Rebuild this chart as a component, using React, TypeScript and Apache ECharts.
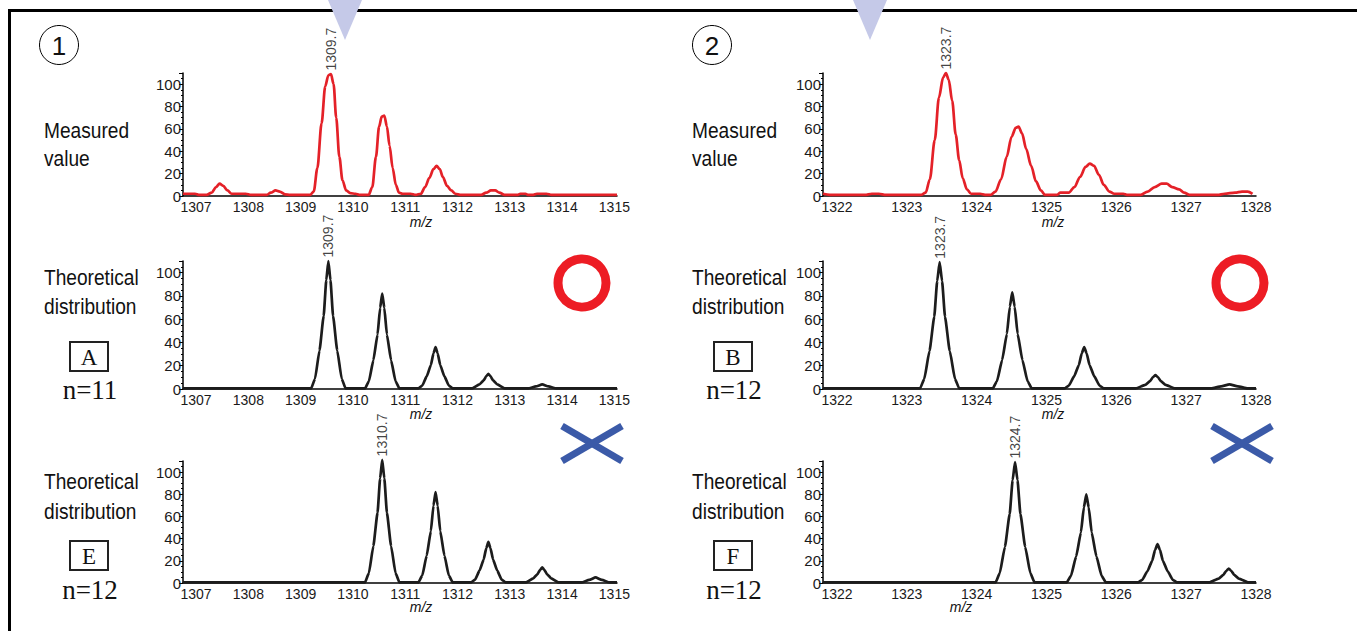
import React, { useEffect, useRef } from "react";
import * as echarts from "echarts";

const SANS = "'Liberation Sans', Arial, sans-serif";
const SERIF = "'Liberation Serif', 'Times New Roman', serif";

const leftTicks = [1307, 1308, 1309, 1310, 1311, 1312, 1313, 1314, 1315];
const rightTicks = [1322, 1323, 1324, 1325, 1326, 1327, 1328];

const measured1: number[][] = [
  [1306.75, 2], [1306.98, 2], [1307.05, 1], [1307.2, 1], [1307.3, 3], [1307.38, 8], [1307.45, 11], [1307.52, 9], [1307.6, 5], [1307.68, 2], [1307.95, 2], [1308.05, 1], [1308.35, 1], [1308.43, 3], [1308.52, 5], [1308.6, 4], [1308.7, 1.5], [1308.8, 1],
  [1309.18, 1], [1309.25, 4], [1309.32, 25], [1309.4, 65], [1309.47, 98], [1309.53, 108], [1309.58, 109], [1309.63, 100], [1309.68, 70], [1309.74, 35], [1309.8, 14], [1309.87, 5], [1309.95, 2.5], [1310.05, 2], [1310.12, 1], [1310.3, 1],
  [1310.37, 8], [1310.44, 35], [1310.5, 62], [1310.55, 71], [1310.6, 72], [1310.65, 62], [1310.7, 45], [1310.76, 25], [1310.82, 10], [1310.88, 3], [1310.95, 2], [1311.1, 2], [1311.2, 1],
  [1311.3, 2], [1311.38, 8], [1311.46, 16], [1311.54, 24], [1311.6, 27], [1311.66, 24], [1311.72, 17], [1311.8, 9], [1311.88, 5], [1311.96, 2], [1312.05, 1], [1312.45, 1],
  [1312.55, 3], [1312.64, 5], [1312.72, 5], [1312.8, 3], [1312.9, 1], [1313.15, 1], [1313.2, 2], [1313.3, 2], [1313.35, 1], [1313.45, 1], [1313.52, 2], [1313.7, 2], [1313.8, 1], [1315.05, 1],
];

const theoA: number[][] = [
  [1306.75, 0.5],
  [1309.2, 0.5], [1309.275, 8.8], [1309.36, 33], [1309.44, 62.7], [1309.49, 93.5], [1309.53, 110], [1309.57, 93.5], [1309.62, 62.7], [1309.7, 33], [1309.785, 8.8], [1309.86, 0.5],
  [1310.23, 0.5], [1310.305, 6.6], [1310.39, 24.6], [1310.47, 46.7], [1310.52, 69.7], [1310.56, 82], [1310.6, 69.7], [1310.65, 46.7], [1310.73, 24.6], [1310.815, 6.6], [1310.89, 0.5],
  [1311.25, 0.5], [1311.325, 2.9], [1311.41, 10.8], [1311.49, 20.5], [1311.54, 30.6], [1311.58, 36], [1311.62, 30.6], [1311.67, 20.5], [1311.75, 10.8], [1311.835, 2.9], [1311.91, 0.5],
  [1312.28, 0.5], [1312.42, 3.9], [1312.5, 7.4], [1312.55, 11], [1312.59, 13], [1312.63, 11], [1312.68, 7.4], [1312.76, 3.9], [1312.9, 0.5],
  [1313.35, 0.5], [1313.5, 2.2], [1313.62, 4], [1313.74, 2.2], [1313.89, 0.5],
  [1315.05, 0.5],
];

const theoE: number[][] = [
  [1306.75, 0.5],
  [1310.23, 0.5], [1310.305, 8.9], [1310.39, 33.3], [1310.47, 63.3], [1310.52, 94.4], [1310.56, 111], [1310.6, 94.4], [1310.65, 63.3], [1310.73, 33.3], [1310.815, 8.9], [1310.89, 0.5],
  [1311.25, 0.5], [1311.325, 6.6], [1311.41, 24.6], [1311.49, 46.7], [1311.54, 69.7], [1311.58, 82], [1311.62, 69.7], [1311.67, 46.7], [1311.75, 24.6], [1311.835, 6.6], [1311.91, 0.5],
  [1312.26, 0.5], [1312.335, 3], [1312.42, 11.1], [1312.5, 21.1], [1312.55, 31.5], [1312.59, 37], [1312.63, 31.5], [1312.68, 21.1], [1312.76, 11.1], [1312.845, 3], [1312.92, 0.5],
  [1313.31, 0.5], [1313.45, 4.2], [1313.53, 8], [1313.58, 11.9], [1313.62, 14], [1313.66, 11.9], [1313.71, 8], [1313.79, 4.2], [1313.93, 0.5],
  [1314.37, 0.5], [1314.52, 2.8], [1314.64, 5], [1314.76, 2.8], [1314.91, 0.5],
  [1315.05, 0.5],
];

const measured2: number[][] = [
  [1321.8, 2], [1321.9, 1], [1322.0, 1], [1322.4, 1], [1322.5, 2], [1322.6, 2], [1322.7, 1], [1323.2, 1],
  [1323.27, 3], [1323.33, 15], [1323.4, 50], [1323.46, 88], [1323.52, 106], [1323.56, 110], [1323.6, 104], [1323.65, 85], [1323.7, 55], [1323.75, 32], [1323.8, 16], [1323.86, 6], [1323.92, 2], [1324.05, 2], [1324.12, 1], [1324.2, 1],
  [1324.27, 4], [1324.35, 15], [1324.43, 35], [1324.5, 53], [1324.56, 61], [1324.6, 62], [1324.65, 56], [1324.71, 42], [1324.78, 27], [1324.85, 13], [1324.92, 5], [1324.98, 1], [1325.15, 1], [1325.2, 3], [1325.32, 3],
  [1325.4, 8], [1325.48, 17], [1325.56, 26], [1325.62, 29], [1325.68, 27], [1325.75, 19], [1325.82, 10], [1325.9, 4], [1325.97, 2], [1326.1, 2], [1326.15, 1], [1326.35, 1],
  [1326.45, 4], [1326.55, 8], [1326.65, 11], [1326.72, 11], [1326.8, 8], [1326.9, 6], [1326.97, 3], [1327.05, 1], [1327.45, 1],
  [1327.55, 2], [1327.7, 3], [1327.8, 4], [1327.88, 4], [1327.95, 2],
];

const theoB: number[][] = [
  [1321.8, 0.5],
  [1323.19, 0.5], [1323.25, 8.7], [1323.325, 32.7], [1323.393, 62.1], [1323.435, 92.7], [1323.47, 109], [1323.505, 92.7], [1323.547, 62.1], [1323.615, 32.7], [1323.69, 8.7], [1323.75, 0.5],
  [1324.23, 0.5], [1324.29, 6.6], [1324.365, 24.9], [1324.433, 47.3], [1324.475, 70.6], [1324.51, 83], [1324.545, 70.6], [1324.587, 47.3], [1324.655, 24.9], [1324.73, 6.6], [1324.79, 0.5],
  [1325.26, 0.5], [1325.32, 2.9], [1325.395, 10.8], [1325.463, 20.5], [1325.505, 30.6], [1325.54, 36], [1325.575, 30.6], [1325.617, 20.5], [1325.685, 10.8], [1325.76, 2.9], [1325.82, 0.5],
  [1326.28, 0.5], [1326.415, 3.6], [1326.483, 6.8], [1326.525, 10.2], [1326.56, 12], [1326.595, 10.2], [1326.637, 6.8], [1326.705, 3.6], [1326.84, 0.5],
  [1327.36, 0.5], [1327.5, 2.2], [1327.62, 4], [1327.74, 2.2], [1327.88, 0.5],
  [1328, 0.5],
];

const theoF: number[][] = [
  [1321.8, 0.5],
  [1324.27, 0.5], [1324.33, 8.7], [1324.405, 32.7], [1324.473, 62.1], [1324.515, 92.7], [1324.55, 109], [1324.585, 92.7], [1324.627, 62.1], [1324.695, 32.7], [1324.77, 8.7], [1324.83, 0.5],
  [1325.29, 0.5], [1325.35, 6.4], [1325.425, 24], [1325.493, 45.6], [1325.535, 68], [1325.57, 80], [1325.605, 68], [1325.647, 45.6], [1325.715, 24], [1325.79, 6.4], [1325.85, 0.5],
  [1326.31, 0.5], [1326.37, 2.8], [1326.445, 10.5], [1326.513, 20], [1326.555, 29.8], [1326.59, 35], [1326.625, 29.8], [1326.667, 20], [1326.735, 10.5], [1326.81, 2.8], [1326.87, 0.5],
  [1327.33, 0.5], [1327.465, 3.9], [1327.533, 7.4], [1327.575, 11], [1327.61, 13], [1327.645, 11], [1327.687, 7.4], [1327.755, 3.9], [1327.89, 0.5],
  [1328, 0.5],
];

// [x, y, label] of the annotated peak in each panel
const peakTL = [1309.58, 109, "1309.7"];
const peakML = [1309.53, 110, "1309.7"];
const peakBL = [1310.56, 111, "1310.7"];
const peakTR = [1323.56, 110, "1323.7"];
const peakMR = [1323.47, 109, "1323.7"];
const peakBR = [1324.55, 109, "1324.7"];

const RED = "#e42128";
const BLACK = "#1c1c1c";

export default function App() {
  const ref = useRef<HTMLDivElement>(null);

  useEffect(() => {
    if (!ref.current) return;
    const chart = echarts.init(ref.current, undefined, { renderer: "svg" });

    const rows = [
      { top: 73, height: 123 },
      { top: 261, height: 128 },
      { top: 461, height: 122 },
    ];
    const cols = [
      { left: 183, width: 434, min: 1306.75, max: 1315.05, ticks: leftTicks },
      { left: 823, width: 433, min: 1321.8, max: 1328, ticks: rightTicks },
    ];
    const panels = [
      { r: 0, c: 0, data: measured1, color: RED, peak: peakTL, smooth: 0.3 },
      { r: 1, c: 0, data: theoA, color: BLACK, peak: peakML, smooth: 0.15 },
      { r: 2, c: 0, data: theoE, color: BLACK, peak: peakBL, smooth: 0.15 },
      { r: 0, c: 1, data: measured2, color: RED, peak: peakTR, smooth: 0.3 },
      { r: 1, c: 1, data: theoB, color: BLACK, peak: peakMR, smooth: 0.15 },
      { r: 2, c: 1, data: theoF, color: BLACK, peak: peakBR, smooth: 0.15 },
    ];

    const grid: any[] = [];
    const xAxis: any[] = [];
    const yAxis: any[] = [];
    const series: any[] = [];
    panels.forEach((p, i) => {
      const row = rows[p.r];
      const col = cols[p.c];
      grid.push({ left: col.left, width: col.width, top: row.top, height: row.height, containLabel: false });
      xAxis.push({
        gridIndex: i,
        type: "value",
        min: col.min,
        max: col.max,
        axisLine: { onZero: false, lineStyle: { color: "#000", width: 1.5 } },
        axisTick: { show: false },
        splitLine: { show: false },
        axisLabel: {
          customValues: col.ticks,
          formatter: (v: number) => String(v),
          fontSize: 14,
          color: "#1a1a1a",
          margin: 4,
          fontFamily: SANS,
        },
      });
      yAxis.push({
        gridIndex: i,
        type: "value",
        min: 0,
        max: 110,
        interval: 20,
        axisLine: { show: true, lineStyle: { color: "#000", width: 1.5 } },
        axisTick: { show: true, length: 4, lineStyle: { color: "#000", width: 1 } },
        minorTick: { show: true, splitNumber: 4, length: 2, lineStyle: { color: "#000", width: 1 } },
        splitLine: { show: false },
        axisLabel: { fontSize: 15, color: "#1a1a1a", margin: 2, showMaxLabel: false, fontFamily: SANS },
      });
      series.push({
        type: "line",
        xAxisIndex: i,
        yAxisIndex: i,
        data: p.data,
        showSymbol: false,
        smooth: p.smooth,
        smoothMonotone: "x",
        lineStyle: { color: p.color, width: 2.7 },
        clip: false,
        z: 3,
      });
      series.push({
        type: "scatter",
        xAxisIndex: i,
        yAxisIndex: i,
        data: [p.peak],
        symbolSize: 1,
        clip: false,
        itemStyle: { color: "rgba(0,0,0,0)" },
        label: {
          show: true,
          position: "top",
          distance: 3,
          rotate: 90,
          align: "left",
          verticalAlign: "middle",
          fontSize: 14,
          color: "#111",
          fontFamily: SANS,
          formatter: (d: any) => d.data[2],
        },
        z: 4,
      });
    });

    const txt = (text: string, x: number, y: number, size: number, family = SANS, extra: any = {}) => ({
      type: "text",
      x,
      y,
      scaleX: extra.sx || 1,
      z: 10,
      style: {
        text,
        fontSize: size,
        fontFamily: family,
        fill: "#111",
        textAlign: extra.align || "left",
        textVerticalAlign: "middle",
        fontStyle: extra.italic ? "italic" : "normal",
      },
    });
    const lab = (text: string, x: number, y: number) => txt(text, x, y, 22, SANS, { sx: 0.87 });

    const graphic: any[] = [
      { type: "line", shape: { x1: 8, y1: 10.5, x2: 1357, y2: 10.5 }, style: { stroke: "#000", lineWidth: 3 }, z: 1 },
      { type: "line", shape: { x1: 9.5, y1: 9, x2: 9.5, y2: 631 }, style: { stroke: "#000", lineWidth: 3 }, z: 1 },
      { type: "polygon", shape: { points: [[328, 0], [362, 0], [345, 40]] }, style: { fill: "#c5c9e8" }, z: 2 },
      { type: "polygon", shape: { points: [[853, 0], [887, 0], [870, 40]] }, style: { fill: "#c5c9e8" }, z: 2 },
      { type: "circle", shape: { cx: 59, cy: 45, r: 19.5 }, style: { stroke: "#000", fill: "none", lineWidth: 1 }, z: 2 },
      { type: "circle", shape: { cx: 712, cy: 45, r: 19.5 }, style: { stroke: "#000", fill: "none", lineWidth: 1 }, z: 2 },
      txt("1", 59, 46, 26, SANS, { align: "center" }),
      txt("2", 712, 46, 26, SANS, { align: "center" }),

      lab("Measured", 44, 130),
      lab("value", 44, 158),
      lab("Theoretical", 44, 277),
      lab("distribution", 44, 306),
      lab("Theoretical", 44, 481),
      lab("distribution", 44, 511),
      lab("Measured", 692, 130),
      lab("value", 692, 158),
      lab("Theoretical", 692, 277),
      lab("distribution", 692, 306),
      lab("Theoretical", 692, 481),
      lab("distribution", 692, 511),

      { type: "rect", shape: { x: 70, y: 342, width: 38, height: 29 }, style: { stroke: "#222", fill: "none", lineWidth: 2 }, z: 2 },
      { type: "rect", shape: { x: 70, y: 541, width: 38, height: 29 }, style: { stroke: "#222", fill: "none", lineWidth: 2 }, z: 2 },
      { type: "rect", shape: { x: 714, y: 342, width: 38, height: 29 }, style: { stroke: "#222", fill: "none", lineWidth: 2 }, z: 2 },
      { type: "rect", shape: { x: 714, y: 541, width: 38, height: 29 }, style: { stroke: "#222", fill: "none", lineWidth: 2 }, z: 2 },
      txt("A", 89, 357, 23, SERIF, { align: "center" }),
      txt("E", 89, 556, 23, SERIF, { align: "center" }),
      txt("B", 733, 357, 23, SERIF, { align: "center" }),
      txt("F", 733, 556, 23, SERIF, { align: "center" }),
      txt("n=11", 90, 390, 27, SERIF, { align: "center" }),
      txt("n=12", 90, 590, 27, SERIF, { align: "center" }),
      txt("n=12", 734, 390, 27, SERIF, { align: "center" }),
      txt("n=12", 734, 590, 27, SERIF, { align: "center" }),

      txt("m/z", 421, 222, 14, SANS, { align: "center", italic: true }),
      txt("m/z", 421, 414, 14, SANS, { align: "center", italic: true }),
      txt("m/z", 421, 607, 14, SANS, { align: "center", italic: true }),
      txt("m/z", 1053, 222, 14, SANS, { align: "center", italic: true }),
      txt("m/z", 1053, 414, 14, SANS, { align: "center", italic: true }),
      txt("m/z", 961, 607, 14, SANS, { align: "center", italic: true }),

      { type: "circle", shape: { cx: 582, cy: 283, r: 24 }, style: { stroke: "#ed1c24", fill: "none", lineWidth: 9 }, z: 2 },
      { type: "circle", shape: { cx: 1240, cy: 283, r: 24 }, style: { stroke: "#ed1c24", fill: "none", lineWidth: 9 }, z: 2 },
      { type: "line", shape: { x1: 562, y1: 426, x2: 622, y2: 461 }, style: { stroke: "#3b5aa8", lineWidth: 7 }, z: 2 },
      { type: "line", shape: { x1: 562, y1: 461, x2: 622, y2: 426 }, style: { stroke: "#3b5aa8", lineWidth: 7 }, z: 2 },
      { type: "line", shape: { x1: 1212, y1: 426, x2: 1272, y2: 461 }, style: { stroke: "#3b5aa8", lineWidth: 7 }, z: 2 },
      { type: "line", shape: { x1: 1212, y1: 461, x2: 1272, y2: 426 }, style: { stroke: "#3b5aa8", lineWidth: 7 }, z: 2 },
    ];

    chart.setOption({
      animation: false,
      backgroundColor: "#fff",
      grid,
      xAxis,
      yAxis,
      series,
      graphic,
    });

    return () => chart.dispose();
  }, []);

  return (
    <div
      ref={ref}
      style={{ position: "fixed", left: 0, top: 0, width: 1357, height: 631, background: "#fff" }}
    />
  );
}
